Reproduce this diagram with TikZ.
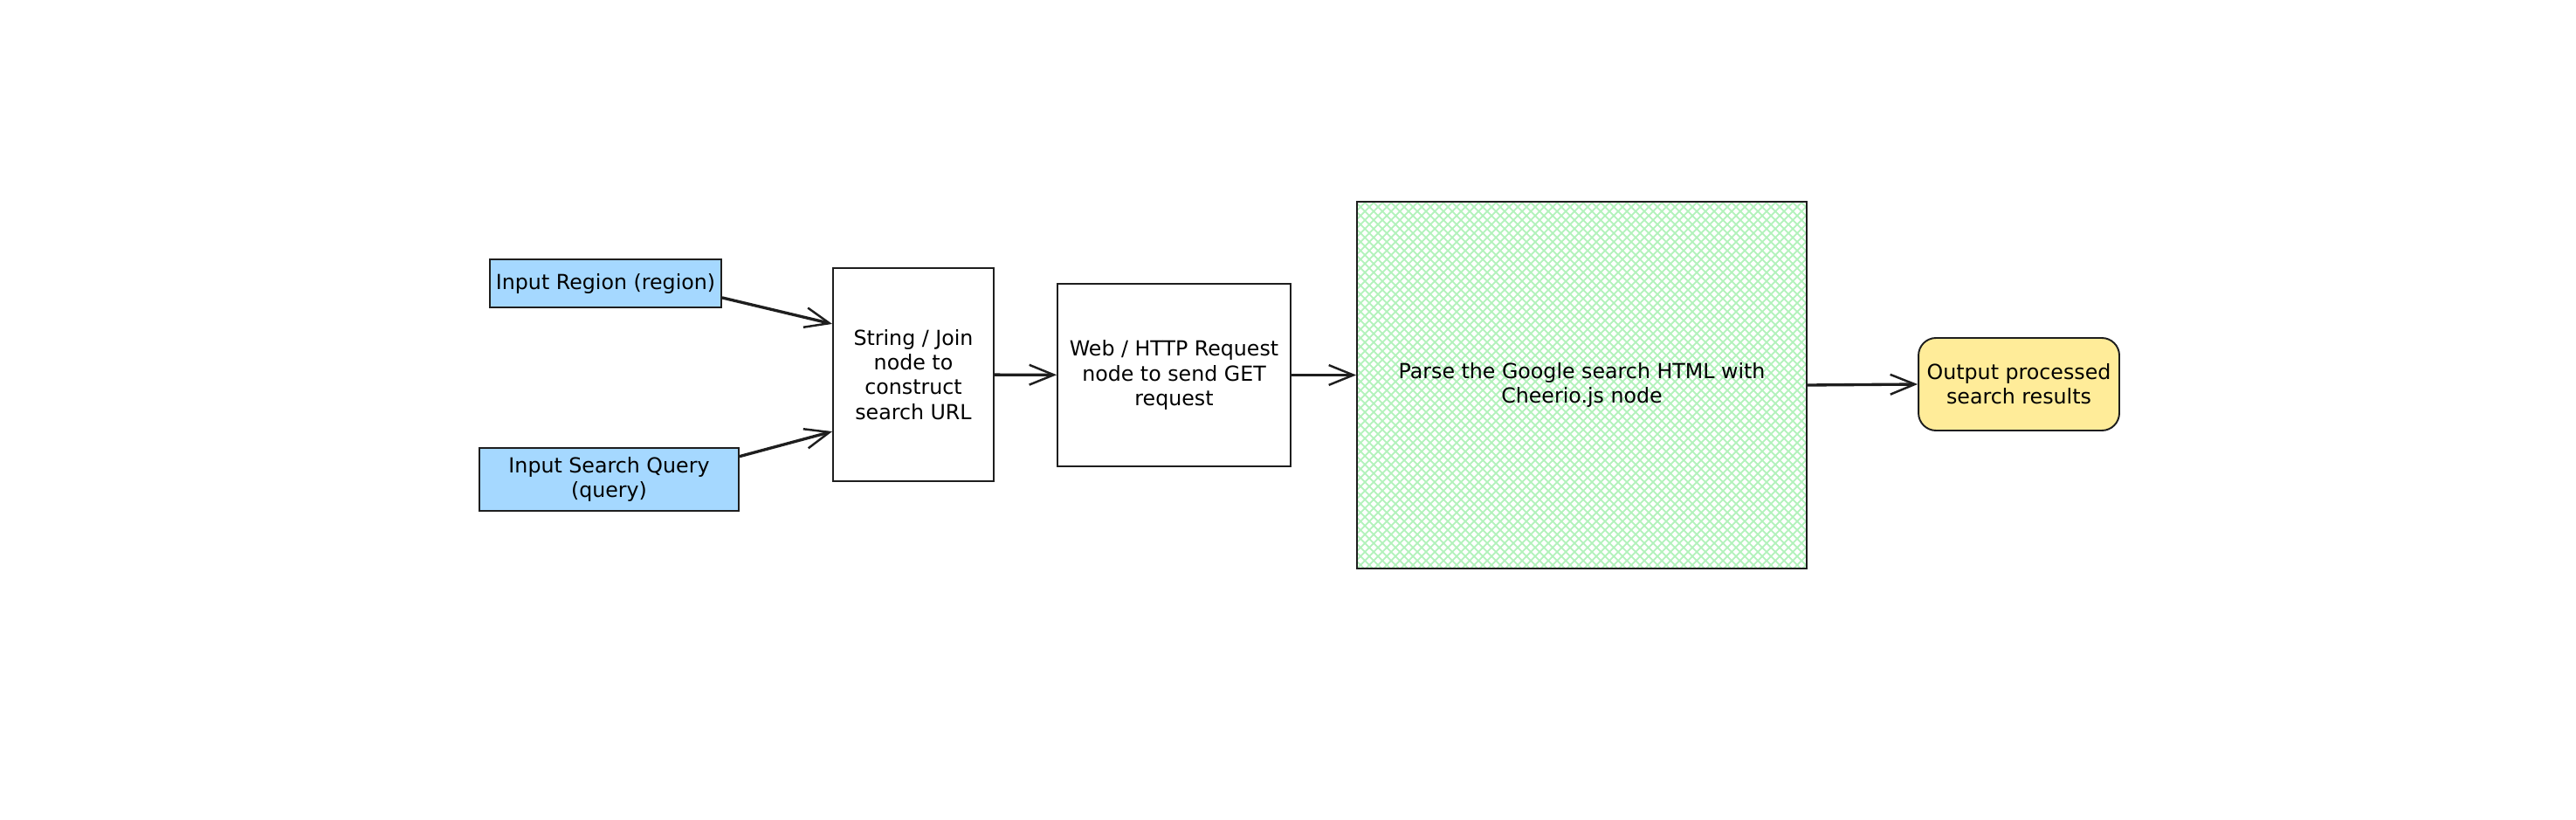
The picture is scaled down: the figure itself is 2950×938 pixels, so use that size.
\documentclass[tikz,border=0pt]{standalone}
\usepackage{fontspec}
\setmainfont{DejaVu Sans}
\usepackage{tikz}
\usetikzlibrary{arrows.meta, backgrounds}
\usepackage{xcolor}
\definecolor{inputblue}{HTML}{A5D8FF}
\definecolor{outputyellow}{HTML}{FFEC99}
\definecolor{hatchgreen}{HTML}{B2F2BB}
\definecolor{ink}{HTML}{1E1E1E}

\begin{document}
\begin{tikzpicture}[x=0.02cm, y=0.02cm,
    box/.style={draw=ink, line width=1.1pt, align=center, inner sep=0pt, font=\fontsize{13.5}{16}\selectfont},
    inbox/.style={box, fill=inputblue},
    flow/.style={draw=ink, line width=1.9pt, -{Straight Barb[length=16pt, width=13pt, line width=1.4pt]}},
    hatch/.style={draw=hatchgreen, line width=1pt}]
        \useasboundingbox (0,0) rectangle (2950,938);

        \node[inbox, minimum width=5.3cm, minimum height=1.1cm] (region) at (693.5,613.5) {Input Region (region)};
        \node[inbox, minimum width=5.94cm, minimum height=1.44cm] (query) at (697.5,389) {Input Search Query\\(query)};
        \node[box, minimum width=3.68cm, minimum height=4.88cm] (join) at (1046,509) {String / Join\\node to\\construct\\search URL};
        \node[box, minimum width=5.34cm, minimum height=4.18cm] (request) at (1344.5,508.5) {Web / HTTP Request\\node to send GET\\request};
        \node[box, minimum width=10.3cm, minimum height=8.4cm] (parse) at (1811.5,497) {Parse the Google search HTML with\\Cheerio.js node};
        \node[box, fill=outputyellow, rounded corners=0.4cm, minimum width=4.6cm, minimum height=2.12cm] (output) at (2312,498) {Output processed\\search results};

        \begin{scope}[on background layer]
            \clip (parse.south west) rectangle (parse.north east);
            \begin{scope}[shift={(parse.south west)}]
                \foreach \d in {-430,-420,...,520} {
                    \draw[hatch] (\d,0) -- ++(430,430);
                    \draw[hatch] (\d+430,0) -- ++(-430,430);
                }
            \end{scope}
        \end{scope}

        \draw[flow] (region.-7.5) -- (join.148);
        \draw[flow] (query.10) -- (join.215);
        \draw[flow] (join) -- (request);
        \draw[flow] (request.east) -- (request.east -| parse.west);
        \draw[flow] (parse.east) -- (output.west);
    \end{tikzpicture}
\end{document}
